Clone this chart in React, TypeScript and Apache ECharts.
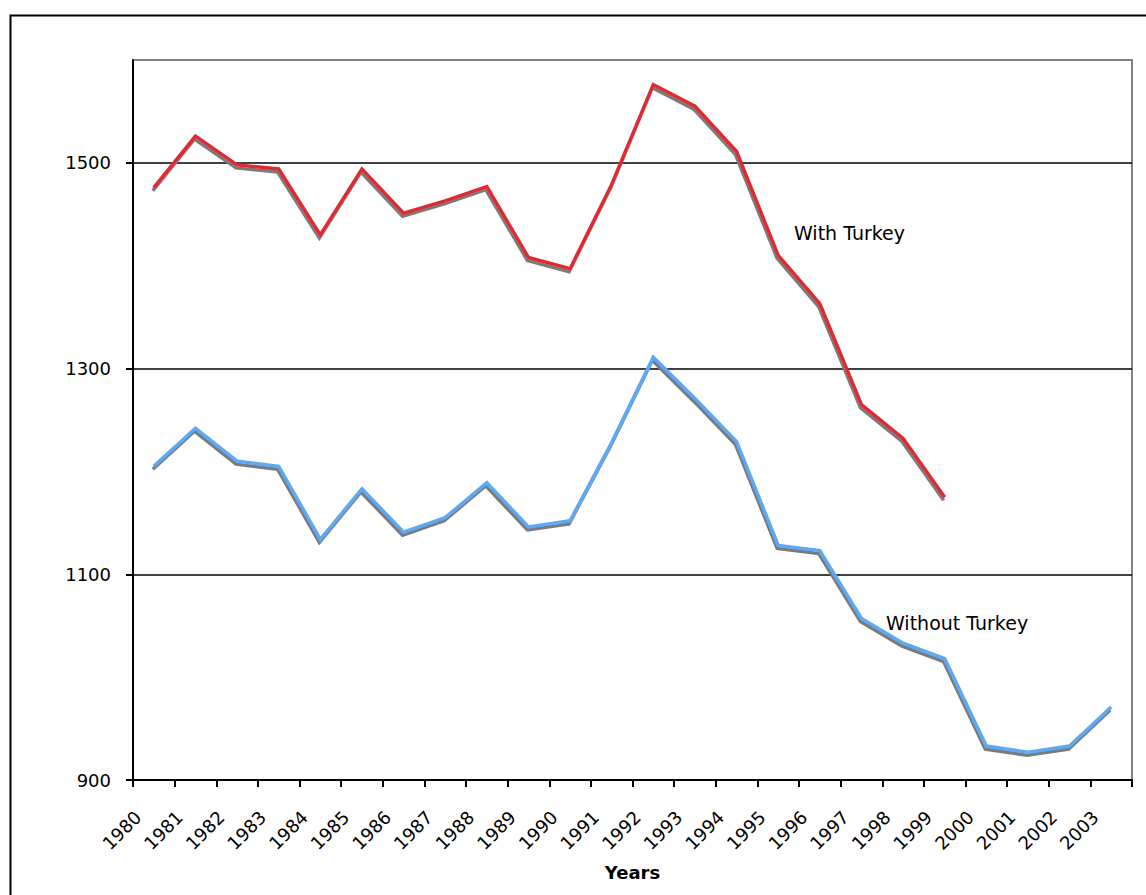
import React, { useEffect, useRef } from "react";
import * as echarts from "echarts";

const years = [
  "1980", "1981", "1982", "1983", "1984", "1985", "1986", "1987", "1988", "1989",
  "1990", "1991", "1992", "1993", "1994", "1995", "1996", "1997", "1998", "1999",
  "2000", "2001", "2002", "2003",
];

const withTurkey: (number | null)[] = [
  1476, 1526, 1498, 1494, 1430, 1494, 1451, 1463, 1477, 1408,
  1397, 1479, 1576, 1555, 1511, 1410, 1363, 1265, 1232, 1175,
  null, null, null, null,
];

const withoutTurkey: number[] = [
  1205, 1242, 1210, 1205, 1134, 1183, 1141, 1155, 1189, 1146,
  1152, 1228, 1311, 1271, 1229, 1128, 1123, 1057, 1033, 1018,
  933, 927, 933, 971,
];

const yMin = 900;
const yMax = 1600;
const yStep = 200;

const FONT = "Verdana, 'DejaVu Sans', sans-serif";

export default function App() {
  const ref = useRef<HTMLDivElement>(null);

  useEffect(() => {
    if (!ref.current) return;
    const chart = echarts.init(ref.current, undefined, { renderer: "svg" });
    chart.setOption({
      animation: false,
      backgroundColor: "#ffffff",
      textStyle: { fontFamily: FONT },
      grid: [
        {
          left: 133,
          top: 60,
          right: 14,
          bottom: 115,
          show: true,
          borderColor: "#808080",
          borderWidth: 2,
          backgroundColor: "transparent",
        },
        {
          left: 138,
          top: 60,
          right: 9,
          bottom: 115,
          show: false,
        },
      ],
      xAxis: [
        {
          type: "category",
          gridIndex: 0,
          data: years,
          boundaryGap: true,
          axisLine: { show: true, lineStyle: { color: "#000", width: 2 } },
          axisTick: { show: true, interval: 0, length: 7, lineStyle: { color: "#000", width: 2 } },
          axisLabel: { show: false },
          splitLine: { show: false },
          name: "Years",
          nameLocation: "middle",
          nameGap: 83,
          nameTextStyle: { fontSize: 18, fontWeight: "bold", color: "#000", fontFamily: FONT },
        },
        {
          type: "category",
          gridIndex: 1,
          data: [...years, ""],
          boundaryGap: false,
          position: "bottom",
          axisLine: { show: false },
          axisTick: { show: false },
          splitLine: { show: false },
          axisLabel: {
            show: true,
            interval: 0,
            rotate: 45,
            margin: 34,
            fontSize: 18,
            color: "#000",
            fontFamily: FONT,
          },
        },
      ],
      yAxis: [
        {
          type: "value",
          gridIndex: 0,
          min: yMin,
          max: yMax,
          interval: yStep,
          axisLine: { show: true, lineStyle: { color: "#000", width: 2 } },
          axisTick: { show: true, length: 7, lineStyle: { color: "#000", width: 2 } },
          axisLabel: {
            fontSize: 18,
            color: "#000",
            margin: 22,
            showMaxLabel: false,
            fontFamily: FONT,
            formatter: (v: number) => String(v),
          },
          splitLine: {
            show: true,
            showMinLine: false,
            showMaxLine: false,
            lineStyle: { color: "#000", width: 1.5 },
          },
        },
        {
          type: "value",
          gridIndex: 1,
          min: yMin,
          max: yMax,
          interval: yStep,
          show: false,
        },
      ],
      series: [
        {
          name: "With Turkey",
          type: "line",
          xAxisIndex: 0,
          yAxisIndex: 0,
          data: withTurkey,
          symbol: "none",
          connectNulls: false,
          lineStyle: {
            color: "#e02b33",
            width: 3.5,
            join: "miter",
            shadowColor: "#7a7a7a",
            shadowBlur: 0,
            shadowOffsetX: -1,
            shadowOffsetY: 3,
          },
          z: 3,
        },
        {
          name: "Without Turkey",
          type: "line",
          xAxisIndex: 0,
          yAxisIndex: 0,
          data: withoutTurkey,
          symbol: "none",
          lineStyle: {
            color: "#5ba9f4",
            width: 3.5,
            join: "miter",
            shadowColor: "#7a7a7a",
            shadowBlur: 0,
            shadowOffsetX: -1,
            shadowOffsetY: 3,
          },
          z: 3,
        },
      ],
      graphic: [
        {
          type: "rect",
          left: 8,
          top: 13,
          shape: { x: 0, y: 0, width: 1160, height: 900 },
          style: { fill: "none", stroke: "#000", lineWidth: 2 },
          silent: true,
          z: 100,
        },
        {
          type: "text",
          x: 794,
          y: 233,
          style: {
            text: "With Turkey",
            fontSize: 19,
            fontFamily: FONT,
            fill: "#000",
            verticalAlign: "middle",
          },
          z: 100,
        },
        {
          type: "text",
          x: 886,
          y: 623,
          style: {
            text: "Without Turkey",
            fontSize: 19,
            fontFamily: FONT,
            fill: "#000",
            verticalAlign: "middle",
          },
          z: 100,
        },
      ],
    });
    return () => chart.dispose();
  }, []);

  return (
    <div
      ref={ref}
      style={{ position: "fixed", left: 0, top: 0, width: 1146, height: 895 }}
    />
  );
}
